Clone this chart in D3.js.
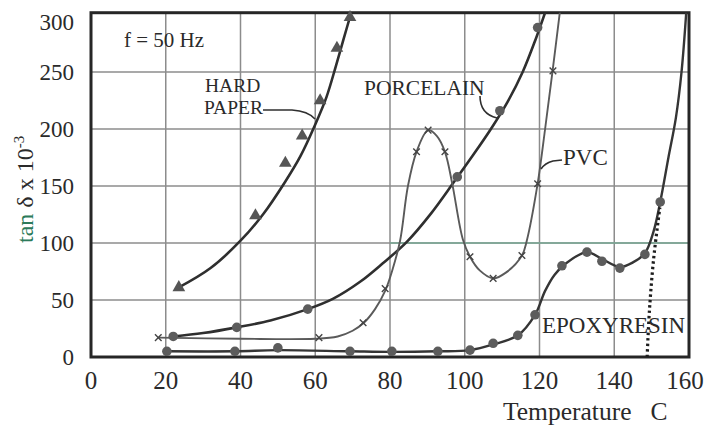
<!DOCTYPE html>
<html>
<head>
<script src="https://cdnjs.cloudflare.com/ajax/libs/d3/7.8.5/d3.min.js"></script>
<style>
  body, html { margin: 0; padding: 0; background: #fff; }
  svg { display: block; font-family: "Liberation Serif", "Times New Roman", serif; }
</style>
</head>
<body>
<div id="chart"></div>
<script>
// x ticks (temperature, C) and y ticks (tan delta x 10^-3)
const xTicks = [0, 20, 40, 60, 80, 100, 120, 140, 160];
const yTicks = [0, 50, 100, 150, 200, 250, 300];

// curves: [temperature, tan delta]
const hardPaperLine = [[23.5,61],[32,78],[40,102],[46,125],[52,154],[56,176],[60,204],[63,228],[65.5,255],[67.5,278],[69.8,304]];
const hardPaperPts  = [[23.5,61],[44,124],[52,170],[56.5,194],[61.3,225],[65.8,271],[69.3,298]];

const porcelainLine = [[22,18],[30,21],[39,26],[48,32],[58,42],[64.7,51],[72,66],[78,82],[84.5,101],[91,126],[97,153],[102,176],[107,200],[111.5,224],[115.5,250],[119,279],[121.7,304]];
const porcelainPts  = [[22,18],[39,26],[58,42],[98,158],[109.4,216],[119.5,289]];

const pvcLine = [[18,17],[40,16],[60,16],[66,18],[70,23],[73,30],[76,42],[78.7,58],[80.7,77],[82.7,102],[84.8,150],[87.1,180],[90.2,199],[92.5,194],[94.7,180],[96.6,153],[99.5,103],[101.4,88],[104,76],[107.6,69],[111,74],[115.3,89],[116.6,102],[119.5,152],[121.5,200],[123.5,251],[125.5,304]];
const pvcPts  = [[18,17],[61,17],[72.8,30],[78.7,60],[87.1,180],[90.2,199],[94.7,180],[101.4,88],[107.6,69],[115.3,89],[119.5,152],[123.6,251]];

const epoxyLine = [[20.3,5],[38.5,5],[50,6],[69.3,5],[80.5,4.5],[92.8,5],[101.4,6],[107.6,11],[114.2,19],[118.8,37],[121.5,58],[124,72],[127,82],[132.7,92],[136.7,86],[141.5,79],[145,83],[148.2,91],[150.5,110],[152.3,136],[154.5,175],[156.5,210],[158,250],[159.3,304]];
const epoxyPts  = [[20.3,5],[38.5,5],[50,8],[69.3,5],[80.5,5],[92.8,5],[101.4,6],[107.6,12],[114.2,19],[118.8,37],[126,80],[132.7,92],[136.7,84],[141.5,78],[148.2,90],[152.3,136]];

const epoxyDotted = [[148.8,0],[149.4,40],[150.5,85],[152.2,131]];

const W = 706, H = 427;
const svg = d3.select("#chart").append("svg")
  .attr("width", W)
  .attr("height", H);

const x = d3.scaleLinear().domain([0, 160]).range([91, 689]);
const y = d3.scaleLinear().domain([0, 300]).range([357, 15]);
const yTop = y(302);

svg.append("defs").append("clipPath").attr("id", "plot")
  .append("rect")
  .attr("x", x(0)).attr("y", yTop)
  .attr("width", x(160) - x(0)).attr("height", y(0) - yTop);

// grid
const grid = svg.append("g").attr("stroke", "#8c8c8c").attr("stroke-width", 1.5);
grid.selectAll("line.v")
  .data(xTicks.filter(d => d > 0 && d < 160))
  .join("line")
    .attr("x1", d => x(d)).attr("x2", d => x(d))
    .attr("y1", yTop).attr("y2", y(0));
grid.selectAll("line.h")
  .data(yTicks.filter(d => d > 0 && d < 300))
  .join("line")
    .attr("x1", x(0)).attr("x2", x(160))
    .attr("y1", d => y(d)).attr("y2", d => y(d));
// the 100 line came out greenish in the scan
svg.append("line")
  .attr("x1", x(80)).attr("x2", x(160))
  .attr("y1", y(100)).attr("y2", y(100))
  .attr("stroke", "#78a894").attr("stroke-width", 1.5);

// frame
svg.append("rect")
  .attr("x", x(0)).attr("y", yTop)
  .attr("width", x(160) - x(0)).attr("height", y(0) - yTop)
  .attr("fill", "none").attr("stroke", "#262626").attr("stroke-width", 3);

const line = d3.line()
  .x(d => x(d[0])).y(d => y(d[1]))
  .curve(d3.curveCatmullRom.alpha(0.5));

const curves = svg.append("g").attr("clip-path", "url(#plot)").attr("fill", "none");
curves.append("path").datum(hardPaperLine).attr("d", line).attr("stroke", "#2f2f2f").attr("stroke-width", 2.6);
curves.append("path").datum(porcelainLine).attr("d", line).attr("stroke", "#2f2f2f").attr("stroke-width", 2.6);
curves.append("path").datum(pvcLine).attr("d", line).attr("stroke", "#5a5a5a").attr("stroke-width", 1.9);
curves.append("path").datum(epoxyLine).attr("d", line).attr("stroke", "#353535").attr("stroke-width", 2.4);
curves.append("path").datum(epoxyDotted).attr("d", line)
  .attr("stroke", "#1e1e1e").attr("stroke-width", 3.2).attr("stroke-dasharray", "2.5,3");

// markers
const marks = svg.append("g");
marks.selectAll("path.tri")
  .data(hardPaperPts)
  .join("path")
    .attr("d", d3.symbol(d3.symbolTriangle, 70))
    .attr("transform", d => `translate(${x(d[0])},${y(d[1])})`)
    .attr("fill", "#555");
marks.selectAll("circle.por")
  .data(porcelainPts)
  .join("circle")
    .attr("cx", d => x(d[0])).attr("cy", d => y(d[1])).attr("r", 4.8)
    .attr("fill", "#5c5c5c");
marks.selectAll("circle.epo")
  .data(epoxyPts)
  .join("circle")
    .attr("cx", d => x(d[0])).attr("cy", d => y(d[1])).attr("r", 4.8)
    .attr("fill", "#5c5c5c");
marks.selectAll("path.cross")
  .data(pvcPts)
  .join("path")
    .attr("d", d3.symbol(d3.symbolTimes, 30))
    .attr("transform", d => `translate(${x(d[0])},${y(d[1])})`)
    .attr("fill", "none").attr("stroke", "#444").attr("stroke-width", 1.4);

// tick labels
svg.append("g").selectAll("text")
  .data(yTicks)
  .join("text")
    .attr("x", 74)
    .attr("y", d => d === 300 ? y(d) + 7 : y(d))
    .attr("dy", "0.35em")
    .attr("text-anchor", "end")
    .attr("font-size", 23)
    .attr("fill", "#2a2a2a")
    .text(d => d);
svg.append("g").selectAll("text")
  .data(xTicks)
  .join("text")
    .attr("x", d => x(d) + (d === 160 ? -4 : 0))
    .attr("y", 389)
    .attr("text-anchor", "middle")
    .attr("font-size", 25)
    .attr("fill", "#2a2a2a")
    .text(d => d);

// axis titles
svg.append("text")
  .attr("x", 503).attr("y", 420)
  .attr("font-size", 25.5).attr("fill", "#2a2a2a")
  .attr("xml:space", "preserve")
  .text("Temperature   C");

const yl = svg.append("text")
  .attr("transform", "translate(33,243) rotate(-90)")
  .attr("font-size", 24).attr("fill", "#2a2a2a");
yl.append("tspan").attr("fill", "#2c7a5a").text("tan");
yl.append("tspan").text(" \u03b4 x 10");
yl.append("tspan").attr("font-size", 15).attr("dy", -9).text("-3");

// annotations
const note = svg.append("g").attr("fill", "#2a2a2a");
note.append("text").attr("x", 124).attr("y", 47).attr("font-size", 21).text("f = 50 Hz");
note.append("text").attr("x", 205).attr("y", 92).attr("font-size", 19.5).text("HARD");
note.append("text").attr("x", 204).attr("y", 114).attr("font-size", 19.5).text("PAPER");
note.append("text").attr("x", 364).attr("y", 95).attr("font-size", 21.5).text("PORCELAIN");
note.append("text").attr("x", 563).attr("y", 165).attr("font-size", 23).text("PVC");
note.append("text").attr("x", 542).attr("y", 333).attr("font-size", 23).text("EPOXYRESIN");

// leader lines
const leaders = svg.append("g").attr("fill", "none").attr("stroke", "#2f2f2f").attr("stroke-width", 1.6);
leaders.append("path").attr("d", "M263,110 L292,110 Q308,111 315,119");
leaders.append("path").attr("d", "M480,96 Q480,114 497,118");
leaders.append("path").attr("d", "M562,160 L553,161 Q545,163 541,169");
</script>
</body>
</html>
